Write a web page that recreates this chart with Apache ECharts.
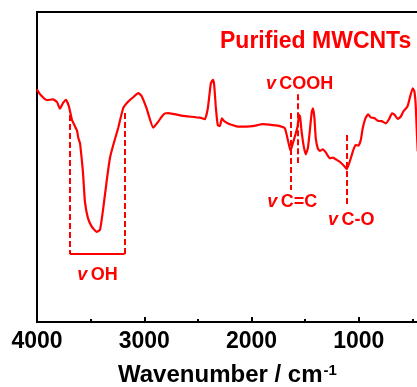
<!DOCTYPE html>
<html>
<head>
<meta charset="utf-8">
<script src="https://cdn.jsdelivr.net/npm/echarts@6/dist/echarts.min.js"></script>
<style>
  html, body { margin: 0; padding: 0; background: #fff; }
  #chart { width: 417px; height: 387px; }
</style>
</head>
<body>
<div id="chart"></div>
<script>
// FTIR spectrum of purified MWCNTs
const wavenumber = [
  4000, 3972, 3907, 3851, 3814, 3786, 3758, 3730, 3702, 3674, 3627, 3615, 3599, 3584,
  3571, 3553, 3525, 3488, 3444, 3413, 3382, 3351, 3320, 3289, 3243, 3196, 3149, 3103,
  3056, 3025, 2978, 2916, 2870, 2838, 2807, 2777, 2640, 2481, 2435, 2407, 2379, 2360,
  2348, 2332, 2314, 2295, 2276, 2258, 2202, 2109, 1988, 1894, 1801, 1736, 1689, 1661,
  1636, 1615, 1587, 1571, 1556, 1547, 1531, 1512, 1494, 1475, 1457, 1438, 1426, 1413,
  1401, 1382, 1363, 1335, 1307, 1270, 1242, 1205, 1177, 1130, 1112, 1084, 1056, 1031,
  1003, 981, 963, 938, 913, 888, 851, 823, 786, 748, 718, 690, 664, 637, 609, 581,
  546, 525, 497, 481, 469, 460, 450
];
const transmittance = [
  75.1, 73.5, 71.6, 71.8, 71.0, 68.8, 70.6, 71.7, 69.5, 65.2, 61.7, 59.4, 57.7, 52.9,
  48.1, 38.8, 33.5, 30.7, 29.1, 29.7, 36.8, 45.3, 52.9, 57.1, 62.6, 69.0, 71.1, 72.5,
  73.8, 72.9, 68.9, 62.7, 64.6, 66.2, 67.3, 67.4, 66.5, 65.9, 65.4, 69.0, 77.0, 78.1,
  76.5, 69.0, 63.5, 63.2, 65.7, 64.9, 63.8, 63.0, 63.2, 63.8, 63.5, 63.2, 62.5, 58.7,
  55.2, 57.6, 60.9, 63.0, 66.8, 66.2, 60.9, 56.5, 54.1, 56.0, 61.4, 67.8, 68.9, 65.7,
  59.3, 56.0, 55.2, 55.7, 54.7, 52.8, 53.0, 52.3, 51.7, 50.1, 49.3, 51.7, 54.9, 57.1,
  56.9, 58.7, 62.5, 65.7, 67.0, 66.0, 65.7, 64.9, 64.8, 64.1, 65.4, 67.3, 66.8, 65.5,
  66.2, 68.1, 69.5, 72.2, 75.4, 74.3, 70.0, 62.6, 55.0
];

// x tick labels
const xTicks = [4000, 3000, 2000, 1000];

// band assignments: dashed marker [wavenumber, top, bottom]
const bandNames = ['COOH', 'C=C', 'C-O'];
const bandLines = [[1571, 73.5, 51.3], [1636, 67.4, 42.6], [1114, 60.3, 37.3]];
const bandLabelPos = [[1552, 76.8], [1620, 38.7], [1070, 32.9]];
// O-H bracket: left, right, tops, bottom
const ohRange = [3693, 3183];
const ohTops = [66.8, 67.4];
const ohBottom = 21.9;
const ohLabelPos = [3436, 15.2];

const RED = '#ff0000';
const FONT = '"Liberation Sans", Arial, sans-serif';

const chart = echarts.init(document.getElementById('chart'));

const dashed = { color: RED, width: 2, type: [6, 3] };
const markLines = bandLines.map(b => [
  { coord: [b[0], b[1]], lineStyle: dashed },
  { coord: [b[0], b[2]] }
]);
ohRange.forEach((x, i) => {
  markLines.push([{ coord: [x, ohTops[i]], lineStyle: dashed }, { coord: [x, ohBottom] }]);
});
markLines.push([
  { coord: [ohRange[0], ohBottom], lineStyle: { color: RED, width: 2, type: 'solid' } },
  { coord: [ohRange[1], ohBottom] }
]);

const labelRich = {
  v: { fontFamily: FONT, fontSize: 18, fontWeight: 'bold', fontStyle: 'italic', color: RED },
  t: { fontFamily: FONT, fontSize: 18, fontWeight: 'bold', color: RED }
};
const markPoints = bandNames.map((n, i) => ({ coord: bandLabelPos[i], name: n }));
markPoints.push({ coord: ohLabelPos, name: 'OH' });

chart.setOption({
  animation: false,
  backgroundColor: '#fff',
  title: [
    {
      text: 'Purified MWCNTs',
      left: 220, top: 30, padding: 0,
      textStyle: { fontFamily: FONT, fontSize: 23, fontWeight: 'bold', color: RED }
    },
    {
      text: 'Wavenumber / cm{sup|-1}',
      left: 118, top: 363, padding: 0,
      textStyle: {
        fontFamily: FONT, fontSize: 24, fontWeight: 'bold', color: '#000',
        rich: {
          sup: { fontFamily: FONT, fontSize: 15, fontWeight: 'bold', color: '#000',
                 verticalAlign: 'top', padding: [0, 0, 10, 1] }
        }
      }
    }
  ],
  grid: {
    left: 37, top: 12, bottom: 65, right: -49,
    outerBoundsMode: 'none',
    containLabel: false,
    show: true, borderColor: '#000', borderWidth: 2
  },
  xAxis: {
    type: 'value',
    inverse: true,
    min: 0, max: 4000, interval: 1000,
    axisLine: { show: true, lineStyle: { color: '#000', width: 2 } },
    axisTick: { show: true, inside: true, length: 5, lineStyle: { color: '#000', width: 2 } },
    minorTick: { show: true, splitNumber: 2, length: 3, lineStyle: { color: '#000', width: 2 } },
    splitLine: { show: false },
    axisLabel: {
      margin: 8,
      fontFamily: FONT, fontSize: 23, fontWeight: 'bold', color: '#000',
      formatter: v => (xTicks.includes(v) ? String(v) : '')
    }
  },
  yAxis: {
    type: 'value',
    min: 0, max: 100,
    axisLine: { show: true, lineStyle: { color: '#000', width: 2 } },
    axisTick: { show: false },
    axisLabel: { show: false },
    splitLine: { show: false }
  },
  series: [{
    type: 'line',
    data: wavenumber.map((w, i) => [w, transmittance[i]]),
    showSymbol: false,
    smooth: 0.15,
    lineStyle: { color: RED, width: 2.2 },
    itemStyle: { color: RED },
    markLine: {
      silent: true,
      symbol: ['none', 'none'],
      label: { show: false },
      data: markLines
    },
    markPoint: {
      silent: true,
      symbol: 'circle',
      symbolSize: 0,
      label: {
        show: true,
        position: 'inside',
        formatter: p => '{v|v} {t|' + p.name + '}',
        rich: labelRich
      },
      data: markPoints
    }
  }]
});
</script>
</body>
</html>
